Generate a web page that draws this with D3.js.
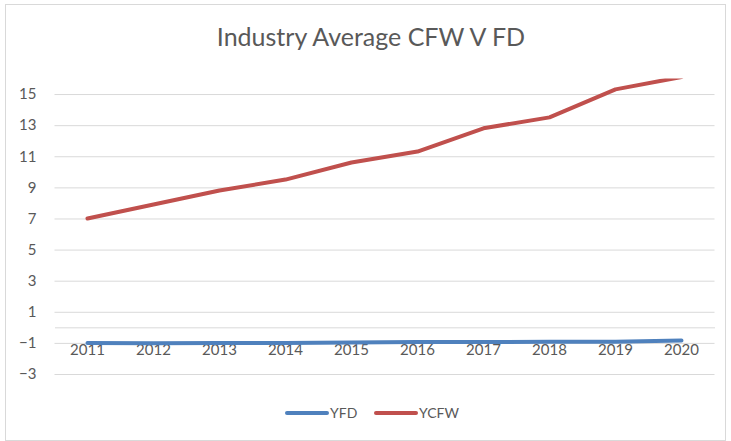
<!DOCTYPE html>
<html>
<head>
<meta charset="utf-8">
<script src="https://cdn.jsdelivr.net/npm/d3@7"></script>
<style>
  body { margin: 0; background: #fff; }
  text { font-family: Lato, "Open Sans", sans-serif; fill: #595959; }
</style>
</head>
<body>
<div id="chart-area"></div>
<script>
// chart data
var years = ["2011", "2012", "2013", "2014", "2015", "2016", "2017", "2018", "2019", "2020"];
var yfd = [-1.0, -1.03, -1.0, -1.0, -0.97, -0.95, -0.95, -0.93, -0.92, -0.85];
var ycfw = [7.0, 7.9, 8.8, 9.5, 10.6, 11.3, 12.8, 13.5, 15.3, 16.1];
var yTicks = [-3, -1, 1, 3, 5, 7, 9, 11, 13, 15];
var seriesNames = ["YFD", "YCFW"];
var seriesColors = ["#4F81BD", "#C0504D"];

var W = 731, H = 441;

var svg = d3.select("#chart-area")
    .append("svg")
    .attr("width", W)
    .attr("height", H);

// chart border
svg.append("rect")
    .attr("x", 5.5).attr("y", 4.5)
    .attr("width", 720).attr("height", 436)
    .attr("fill", "#fff")
    .attr("stroke", "#D9D9D9");

svg.append("text")
    .attr("x", 371).attr("y", 46)
    .attr("text-anchor", "middle")
    .style("font-size", "25px")
    .text("Industry Average CFW V FD");

var x = d3.scaleBand()
    .domain(years)
    .range([54.5, 714.5]);

var y = d3.scaleLinear()
    .domain([-3, 16])
    .range([374, 78.5]);

// gridlines + y labels
var yAxis = svg.append("g")
    .attr("transform", "translate(54.5,0)")
    .call(d3.axisLeft(y).tickValues(yTicks).tickSize(-660).tickPadding(18).tickFormat(d3.format("d")));
yAxis.select(".domain").remove();
yAxis.selectAll("line").attr("stroke", "#D9D9D9");
yAxis.selectAll("text").style("font-size", "15px");

// category axis at zero
var xAxis = svg.append("g")
    .attr("transform", "translate(0," + y(0) + ")")
    .call(d3.axisBottom(x).tickSize(0).tickPadding(17));
xAxis.select(".domain").attr("stroke", "#D9D9D9");
xAxis.selectAll("text").style("font-size", "15px");

svg.append("clipPath").attr("id", "plot-clip")
    .append("rect")
    .attr("x", 54.5).attr("y", y(16))
    .attr("width", 660).attr("height", y(-3) - y(16));

var line = d3.line()
    .x((d, i) => x(years[i]) + x.bandwidth() / 2)
    .y((d) => y(d));

[yfd, ycfw].forEach((vals, k) => {
    svg.append("path")
        .datum(vals)
        .attr("d", line)
        .attr("clip-path", "url(#plot-clip)")
        .attr("fill", "none")
        .attr("stroke", seriesColors[k])
        .attr("stroke-width", 4)
        .attr("stroke-linecap", "round")
        .attr("stroke-linejoin", "round");
});

// legend
var legendX = [287, 376];
seriesNames.forEach((name, k) => {
    var g = svg.append("g").attr("transform", "translate(" + legendX[k] + ",413)");
    g.append("line")
        .attr("x1", 0).attr("x2", 40)
        .attr("stroke", seriesColors[k])
        .attr("stroke-width", 4)
        .attr("stroke-linecap", "round");
    g.append("text")
        .attr("x", 43).attr("y", 5)
        .style("font-size", "14px")
        .text(name);
});
</script>
</body>
</html>
